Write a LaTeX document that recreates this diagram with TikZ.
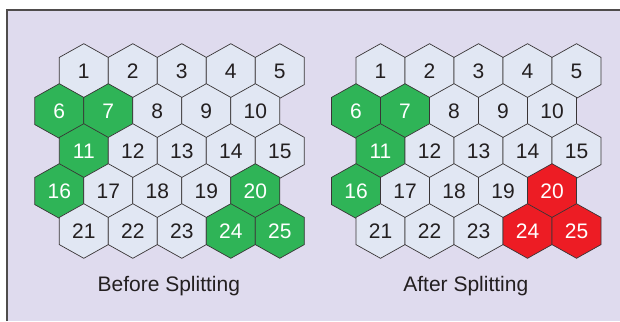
\documentclass[tikz,border=0pt]{standalone}
\usepackage{fontspec}
\setmainfont{Liberation Sans}
\definecolor{bg}{HTML}{DFDBEE}
\definecolor{cell}{HTML}{E1E7F3}
\definecolor{grn}{HTML}{2FB457}
\definecolor{rd}{HTML}{ED1C24}
\definecolor{ink}{HTML}{231F20}
\tikzset{
  hexline/.style={draw=ink!90, line width=0.7pt, line join=miter},
  num/.style={font=\fontsize{21}{21}\selectfont, text=ink, inner sep=0pt},
  caption/.style={font=\fontsize{21}{21}\selectfont, text=ink, inner sep=0pt, anchor=base},
  greencell/.style={fill=grn, text=white},
  redcell/.style={fill=rd, text=white},
  c/L6/.style=greencell, c/L7/.style=greencell, c/L11/.style=greencell,
  c/L16/.style=greencell, c/L20/.style=greencell, c/L24/.style=greencell,
  c/L25/.style=greencell,
  c/R6/.style=greencell, c/R7/.style=greencell, c/R11/.style=greencell,
  c/R16/.style=greencell, c/R20/.style=redcell, c/R24/.style=redcell,
  c/R25/.style=redcell
}
\begin{document}
\begin{tikzpicture}[x=1pt,y=-1pt]
\useasboundingbox (0,0) rectangle (620,321);
\fill[white] (0,0) rectangle (620,321);
\fill[bg] (7,10) rectangle (620,321);
\draw[ink!80, line width=1.2pt] (7,321) -- (7,10) -- (620,10);
\foreach \pre/\ox in {L/0, R/296.7} {
  \foreach \n in {1,...,25} {
    \pgfmathtruncatemacro\r{(\n-1)/5}
    \pgfmathtruncatemacro\c{mod(\n-1,5)}
    \pgfmathsetmacro\cx{\ox + 83.8 + 49*\c - (mod(\r,2)==1 ? 24.5 : 0)}
    \pgfmathsetmacro\cy{71+40*\r}
    \filldraw[hexline, fill=cell, c/\pre\n/.try]
      (\cx-24.5,\cy-13.6) -- (\cx,\cy-27.3) -- (\cx+24.5,\cy-13.6)
      -- (\cx+24.5,\cy+13.6) -- (\cx,\cy+27.3) -- (\cx-24.5,\cy+13.6) -- cycle;
    \node[num, c/\pre\n/.try] (\pre\n) at (\cx,\cy) {\n};
  }
}
\node[caption] (before) at (168.8,291.7) {Before Splitting};
\node[caption] (after) at (465.8,291.7) {After Splitting};
\end{tikzpicture}
\end{document}
